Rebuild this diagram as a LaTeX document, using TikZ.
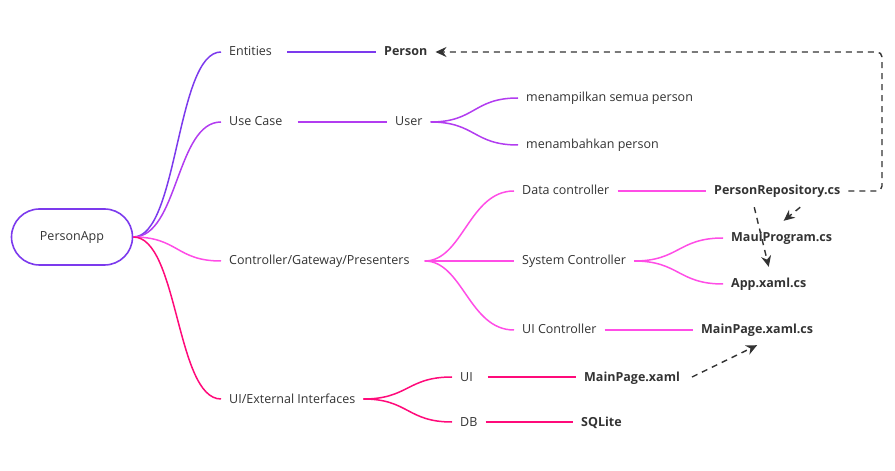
\documentclass[tikz,border=0pt]{standalone}
\usepackage{fontspec}
\setmainfont{Open Sans}
\usetikzlibrary{arrows.meta}
\definecolor{entcol}{HTML}{7C3AED}
\definecolor{ucol}{HTML}{B23CF0}
\definecolor{ctlcol}{HTML}{FF4DE6}
\definecolor{extcol}{HTML}{FF0A7A}
\definecolor{txtcol}{HTML}{333333}
\definecolor{depcol}{HTML}{333333}

\begin{document}
\begin{tikzpicture}[x=1bp,y=-1bp,
  every node/.style={font=\fontsize{12.5bp}{15bp}\selectfont, text=txtcol,
    inner xsep=8bp, inner ysep=2bp, text height=10bp, text depth=2bp, anchor=west},
  leaf/.style={font=\fontsize{12.5bp}{15bp}\selectfont\bfseries},
  root/.style={draw=entcol, line width=1.6bp, rounded corners=28bp,
    minimum width=121bp, minimum height=56bp, anchor=center},
  branch/.style={to path={.. controls +(45bp,0) and +(-45bp,0) .. (\tikztotarget)}},
  link/.style={line width=1.5bp},
  dep/.style={draw=depcol, line width=1.4bp, dash pattern=on 6bp off 5bp,
    -{Stealth[length=11bp,width=10bp]}},
]
\useasboundingbox (0,0) rectangle (895,471);

% Root
\node[root] (app) at (72,237) {PersonApp};

% First level
\node (ent) at (221,52) {Entities};
\node (uc) at (221,122) {Use Case};
\node (ctl) at (221,261) {Controller/Gateway/Presenters};
\node (ext) at (221,399) {UI/External Interfaces};

% Entities
\node[leaf] (person) at (376,52) {Person};

% Use case
\node (user) at (387,122) {User};
\node (show) at (518,98) {menampilkan semua person};
\node (add) at (518,145) {menambahkan person};

% Controllers
\node (datactl) at (514,191) {Data controller};
\node (sysctl) at (514,261) {System Controller};
\node (uictl) at (514,330) {UI Controller};
\node[leaf] (repo) at (706,191) {PersonRepository.cs};
\node[leaf] (maui) at (723,238) {MauiProgram.cs};
\node[leaf] (appx) at (723,284) {App.xaml.cs};
\node[leaf] (mpcs) at (693,330) {MainPage.xaml.cs};

% External interfaces
\node (ui) at (452,377) {UI};
\node (db) at (452,422) {DB};
\node[leaf] (mpx) at (576,377) {MainPage.xaml};
\node[leaf] (sql) at (573,422) {SQLite};

% Branches from the root
\draw[link, entcol] (app.east) to[branch] (ent.west);
\draw[link, ucol] (app.east) to[branch] (uc.west);
\draw[link, ctlcol] (app.east) to[branch] (ctl.west);
\draw[link, extcol] (app.east) to[branch] (ext.west);

% Entities branch
\draw[link, entcol, shorten <=7bp] (ent) -- (person);

% Use case branch
\draw[link, ucol, shorten <=7bp] (uc) -- (user);
\draw[link, ucol] (user.east) to[branch] (show.west);
\draw[link, ucol] (user.east) to[branch] (add.west);

% Controller branch
\draw[link, ctlcol, shorten <=7bp] (ctl.east) to[branch] (datactl.west);
\draw[link, ctlcol, shorten <=7bp] (ctl.east) to[branch] (sysctl.west);
\draw[link, ctlcol, shorten <=7bp] (ctl.east) to[branch] (uictl.west);
\draw[link, ctlcol] (datactl) -- (repo);
\draw[link, ctlcol] (sysctl.east) to[branch] (maui.west);
\draw[link, ctlcol] (sysctl.east) to[branch] (appx.west);
\draw[link, ctlcol] (uictl) -- (mpcs);

% External interfaces branch
\draw[link, extcol] (ext.east) to[branch] (ui.west);
\draw[link, extcol] (ext.east) to[branch] (db.west);
\draw[link, extcol, shorten <=7bp] (ui) -- (mpx);
\draw[link, extcol] (db) -- (sql);

% Dependencies
\coordinate (bend) at (882,52);
\draw[dep, rounded corners=5bp] (repo.east) -| (bend) -- (person.east);
\draw[dep] ([shift={(23,8)}]repo.south) -- ([shift={(2,-9)}]maui.north);
\draw[dep] ([shift={(-23,8)}]repo.south) -- ([shift={(0,-9)}]appx.north);
\draw[dep] ([shift={(4,0)}]mpx.east) -- ([shift={(0,7)}]mpcs.south);
\end{tikzpicture}
\end{document}
